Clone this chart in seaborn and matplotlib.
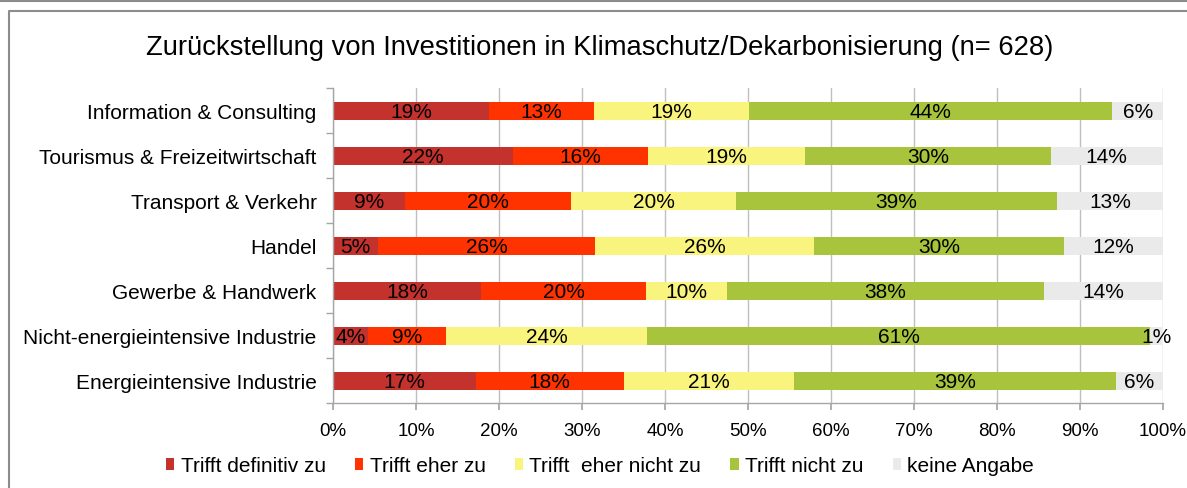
import matplotlib
matplotlib.use("Agg")
import matplotlib.pyplot as plt
from matplotlib.lines import Line2D
from matplotlib.patches import Patch
import seaborn as sns
import numpy as np
import pandas as pd

categories = [
    "Information & Consulting",
    "Tourismus & Freizeitwirtschaft",
    "Transport & Verkehr",
    "Handel",
    "Gewerbe & Handwerk",
    "Nicht-energieintensive Industrie",
    "Energieintensive Industrie",
]
series = ["Trifft definitiv zu", "Trifft eher zu", "Trifft  eher nicht zu",
          "Trifft nicht zu", "keine Angabe"]

definitiv = [18.8, 21.7, 8.6, 5.4, 17.8, 4.2, 17.2]
eher = [12.6, 16.2, 20.0, 26.2, 19.9, 9.4, 17.8]
eher_nicht = [18.7, 19.0, 20.0, 26.3, 9.8, 24.2, 20.6]
nicht = [43.8, 29.6, 38.6, 30.2, 38.2, 60.7, 38.8]
keine = [6.2, 13.5, 12.9, 11.9, 14.3, 1.4, 5.6]

colors = ["#C3322D", "#FF3300", "#F8F47E", "#A8C43C", "#EAEAEA"]

sns.set_theme(style="white")
plt.rcParams["font.family"] = ["Liberation Sans", "DejaVu Sans"]
plt.rcParams["text.color"] = "black"
plt.rcParams["xtick.labelcolor"] = "black"
plt.rcParams["ytick.labelcolor"] = "black"

W, H = 1187, 489
fig = plt.figure(figsize=(W / 100, H / 100), dpi=100)
ax = fig.add_axes([333.3 / W, 1 - 404 / H, (1162.7 - 333.3) / W, (404 - 89.3) / H])

df = pd.DataFrame({"Branche": categories, series[0]: definitiv, series[1]: eher,
                   series[2]: eher_nicht, series[3]: nicht, series[4]: keine})
vals = df[series].to_numpy()
cum = vals.cumsum(axis=1)

# stacked bars: draw cumulative totals from the widest down
for i in reversed(range(len(series))):
    sns.barplot(x=cum[:, i], y=df["Branche"], color=colors[i], saturation=1,
                width=0.4, orient="h", ax=ax, linewidth=0)

for j in range(len(categories)):
    for i in range(len(series)):
        v = vals[j, i]
        ax.text(cum[j, i] - v / 2, j + 0.02, f"{v:.0f}%", ha="center", va="center",
                fontsize=15, color="black")

ax.set_xlim(0, 100)
ax.set_ylim(6.5, -0.5)
ax.set_xticks(np.arange(0, 101, 10))
ax.set_xticklabels([f"{t}%" for t in range(0, 101, 10)], fontsize=13.5)
ax.set_xlabel("")
ax.set_ylabel("")
ax.tick_params(axis="y", which="major", length=0, pad=12, labelsize=15)
ax.set_yticks(np.arange(-0.5, 7, 1), minor=True)
ax.tick_params(axis="y", which="minor", length=5, color="#A6A6A6", direction="out", left=True)
ax.tick_params(axis="x", length=5, color="#A6A6A6", direction="out", bottom=True, pad=9)
ax.set_axisbelow(True)
ax.grid(axis="x", color="#BFBFBF", linewidth=1)
ax.grid(axis="y", visible=False)
for s in ["top", "right"]:
    ax.spines[s].set_visible(False)
for s in ["left", "bottom"]:
    ax.spines[s].set_color("#A6A6A6")
    ax.spines[s].set_linewidth(1)

fig.text(600 / W, 1 - 48 / H, "Zurückstellung von Investitionen in Klimaschutz/Dekarbonisierung (n= 628)",
         ha="center", va="center", fontsize=19.7)

handles = [Patch(facecolor=c, edgecolor="none") for c in colors]
fig.legend(handles, series, loc="center", bbox_to_anchor=(600 / W, 1 - 467 / H), ncol=5,
           frameon=False, fontsize=15, handlelength=0.4, handleheight=0.45,
           handletextpad=0.3, columnspacing=1.4)

# outer frame lines
fig.add_artist(Line2D([0, 1], [1 - 1.5 / H, 1 - 1.5 / H], color="#8C8C8C", lw=1.5))
fig.add_artist(Line2D([9 / W, 9 / W, 1], [0, 1 - 12 / H, 1 - 12 / H], color="#8C8C8C", lw=1.5))

fig.savefig("out.png", dpi=100)
